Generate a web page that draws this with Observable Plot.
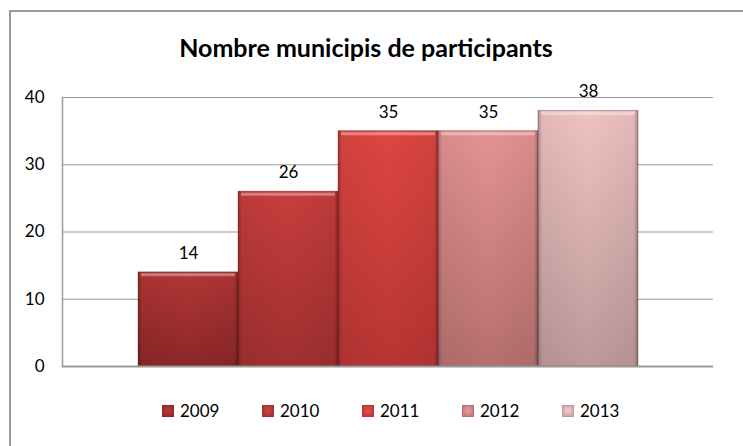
<!DOCTYPE html>
<html>
<head>
<meta charset="utf-8">
<script src="https://cdn.jsdelivr.net/npm/d3@7"></script>
<script src="https://cdn.jsdelivr.net/npm/@observablehq/plot@0.6"></script>
<style>
  html, body { margin: 0; padding: 0; background: #fff; }
  #wrap { position: relative; width: 743px; height: 446px; overflow: hidden; font-family: Lato, "Open Sans", sans-serif; color: #000; }
  #border { position: absolute; left: 9px; top: 10px; width: 800px; height: 500px; border: 2px solid #9a9a9a; box-sizing: border-box; }
  #title { position: absolute; left: 0; top: 33px; width: 732px; text-align: center; font-weight: bold; font-size: 25px; line-height: 28px; }
  #chart { position: absolute; left: 0; top: 80px; }
  #legend { position: absolute; left: 162px; top: 402px; display: flex; }
  .item { width: 100px; display: flex; align-items: center; font-size: 17px; line-height: 18px; }
  .sw { width: 12px; height: 12px; margin-right: 6px; box-sizing: border-box; }
</style>
</head>
<body>
<div id="wrap">
  <div id="border"></div>
  <div id="title">Nombre municipis de participants</div>
  <div id="chart"></div>
  <div id="legend"></div>
</div>
<script>
// Data
const years = ["2009", "2010", "2011", "2012", "2013"];
const values = [14, 26, 35, 35, 38];
const yTicks = [0, 10, 20, 30, 40];
// Colours (top, bottom of each bar's gradient)
const topColors = ["#b23636", "#c73e3d", "#dd4641", "#e49393", "#efc2c2"];
const bottomColors = ["#8c2727", "#a02f2f", "#b73534", "#b66f6f", "#bd9999"];

const data = years.map((year, i) => ({year, value: values[i]}));

const chart = Plot.plot({
  width: 743,
  height: 310,
  marginLeft: 62,
  marginRight: 30,
  marginTop: 17,
  marginBottom: 24,
  style: {fontFamily: "Lato, 'Open Sans', sans-serif", fontSize: "17px", color: "#000", background: "transparent"},
  x: {domain: years, paddingInner: 0, paddingOuter: 0.735, axis: null},
  y: {domain: [0, 40], ticks: yTicks, tickSize: 0, tickPadding: 18, label: null},
  color: {domain: years, range: years.map(y => `url(#grad${y})`)},
  marks: [
    Plot.gridY(yTicks, {stroke: "#9a9a9a", strokeOpacity: 1, strokeWidth: 1.2}),
    Plot.barY(data, {x: "year", y: "value", fill: "year", stroke: "#6d2020", strokeOpacity: 0.35, strokeWidth: 1}),
    Plot.barY(data, {x: "year", y: "value", fill: "url(#bevelH)"}),
    Plot.tickY(data, {x: "year", y: "value", stroke: "#ffffff", strokeOpacity: 0.35, strokeWidth: 3, dy: 2.5, insetLeft: 3, insetRight: 3}),
    Plot.text(data, {x: "year", y: "value", text: d => String(d.value), dy: -19, fill: "#000", fontSize: 17}),
    Plot.ruleY([0], {stroke: "#9a9a9a", strokeWidth: 2}),
    Plot.frame({anchor: "left", stroke: "#9a9a9a", strokeWidth: 1.5})
  ]
});

// gradient definitions
const defs = d3.select(chart).insert("defs", ":first-child");
years.forEach((y, i) => {
  const g = defs.append("linearGradient").attr("id", `grad${y}`).attr("x1", 0).attr("y1", 0).attr("x2", 0).attr("y2", 1);
  g.append("stop").attr("offset", "0%").attr("stop-color", topColors[i]);
  g.append("stop").attr("offset", "100%").attr("stop-color", bottomColors[i]);
});
const bh = defs.append("linearGradient").attr("id", "bevelH").attr("x1", 0).attr("y1", 0).attr("x2", 1).attr("y2", 0);
[[0, 0.28], [0.04, 0.05], [0.5, 0], [0.96, 0.05], [1, 0.3]].forEach(([o, a]) => {
  bh.append("stop").attr("offset", o).attr("stop-color", "#000").attr("stop-opacity", a);
});

document.getElementById("chart").appendChild(chart);

// legend
const legend = document.getElementById("legend");
years.forEach((y, i) => {
  const item = document.createElement("div");
  item.className = "item";
  const sw = document.createElement("div");
  sw.className = "sw";
  sw.style.background = `radial-gradient(circle at 50% 45%, ${topColors[i]} 0%, ${topColors[i]} 30%, ${bottomColors[i]} 100%)`;
  sw.style.border = `1px solid ${bottomColors[i]}`;
  const t = document.createElement("span");
  t.textContent = y;
  item.appendChild(sw);
  item.appendChild(t);
  legend.appendChild(item);
});
</script>
</body>
</html>
